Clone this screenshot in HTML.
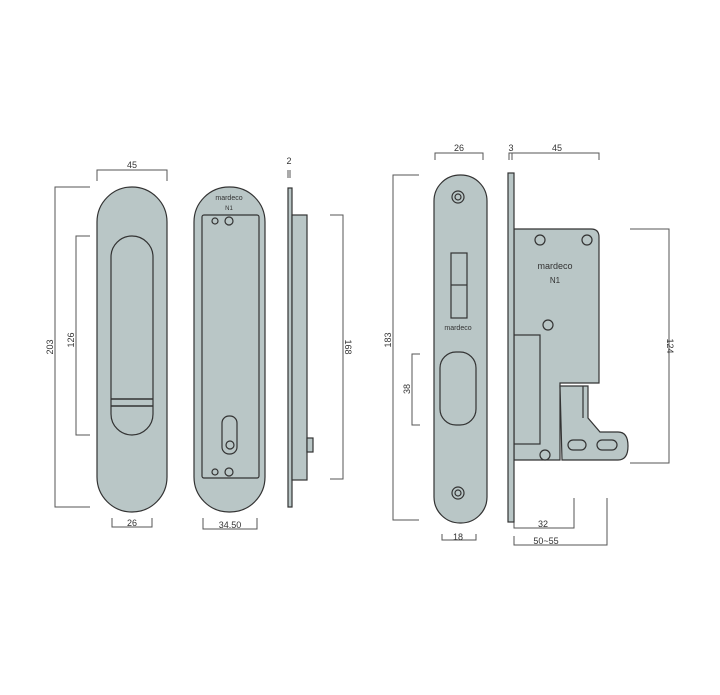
<!DOCTYPE html>
<html><head><style>html,body{margin:0;padding:0;background:#fff}svg{display:block}text{font-family:"Liberation Sans",sans-serif;fill:#333}</style></head><body>
<svg width="720" height="695" viewBox="0 0 720 695" xmlns="http://www.w3.org/2000/svg">
<g fill="none" stroke="#555" stroke-width="1">
<path d="M97 181V170H167V181"/>
<path d="M90 187H55V507H90"/>
<path d="M90 236H76V435H90"/>
<path d="M112 518V527H152V518"/>
<path d="M203 518V529H257V518"/>
<path d="M330 215H343V479H330"/>
<path d="M288 178V170M290 178V170"/>
<path d="M435 160V153H483V160"/>
<path d="M419 175H393V520H419"/>
<path d="M420 354H412V425H420"/>
<path d="M442 534V540H476V534"/>
<path d="M509 160V153H599V160M512 153V160"/>
<path d="M630 229H669V463H630"/>
<path d="M514 520V528H574V498"/>
<path d="M514 536V545H607V498"/>
</g>
<g font-size="9" text-anchor="middle">
<text x="132" y="168">45</text>
<text x="132" y="526">26</text>
<text x="230" y="528">34.50</text>
<text x="289" y="164">2</text>
<text x="459" y="151">26</text>
<text x="511" y="151">3</text>
<text x="557" y="151">45</text>
<text x="458" y="540">18</text>
<text x="543" y="527">32</text>
<text x="546" y="544">50~55</text>
<text transform="translate(53,347) rotate(-90)">203</text>
<text transform="translate(74,340) rotate(-90)">126</text>
<text transform="translate(345,347) rotate(90)">168</text>
<text transform="translate(391,340) rotate(-90)">183</text>
<text transform="translate(410,389) rotate(-90)">38</text>
<text transform="translate(667,346) rotate(90)">124</text>
</g>
<g fill="#b9c6c6" stroke="#333" stroke-width="1.2">
<rect x="97" y="187" width="70" height="325" rx="35"/>
<rect x="111" y="236" width="42" height="199" rx="21"/>
<path d="M111 399H153M111 406H153" stroke-width="1.5"/>
<rect x="194" y="187" width="71" height="325" rx="35"/>
<rect x="202" y="215" width="57" height="263" rx="2"/>
<circle cx="215" cy="221" r="3"/><circle cx="229" cy="221" r="4"/>
<circle cx="215" cy="472" r="3"/><circle cx="229" cy="472" r="4"/>
<rect x="222" y="416" width="15" height="38" rx="7"/>
<circle cx="230" cy="445" r="4"/>
<rect x="288" y="188" width="4" height="319"/>
<rect x="292" y="215" width="15" height="265"/>
<rect x="307" y="438" width="6" height="14"/>
<rect x="434" y="175" width="53" height="348" rx="26"/>
<circle cx="458" cy="197" r="6"/><circle cx="458" cy="197" r="3"/>
<circle cx="458" cy="493" r="6"/><circle cx="458" cy="493" r="3"/>
<rect x="451" y="253" width="16" height="65" fill="none"/>
<path d="M451 285H467"/>
<rect x="440" y="352" width="36" height="73" rx="16"/>
<path d="M560 383V460H514V229H591Q599 229 599 237V383H560Z"/>
<path d="M560 386H588V418L600 432H618Q628 432 628 446Q628 460 618 460H562Z"/>
<path d="M583 386V418" fill="none"/>
<rect x="568" y="440" width="18" height="10" rx="5"/>
<rect x="597" y="440" width="20" height="10" rx="5"/>
<rect x="514" y="335" width="26" height="109"/>
<rect x="508" y="173" width="6" height="349"/>
<circle cx="540" cy="240" r="5"/><circle cx="587" cy="240" r="5"/>
<circle cx="548" cy="325" r="5"/><circle cx="545" cy="455" r="5"/>
</g>
<g text-anchor="middle" fill="#333">
<text x="229" y="200" font-size="7">mardeco</text>
<text x="229" y="210" font-size="6">N1</text>
<text x="458" y="330" font-size="7">mardeco</text>
<text x="555" y="269" font-size="9">mardeco</text>
<text x="555" y="283" font-size="8">N1</text>
</g>
</svg>
</body></html>
